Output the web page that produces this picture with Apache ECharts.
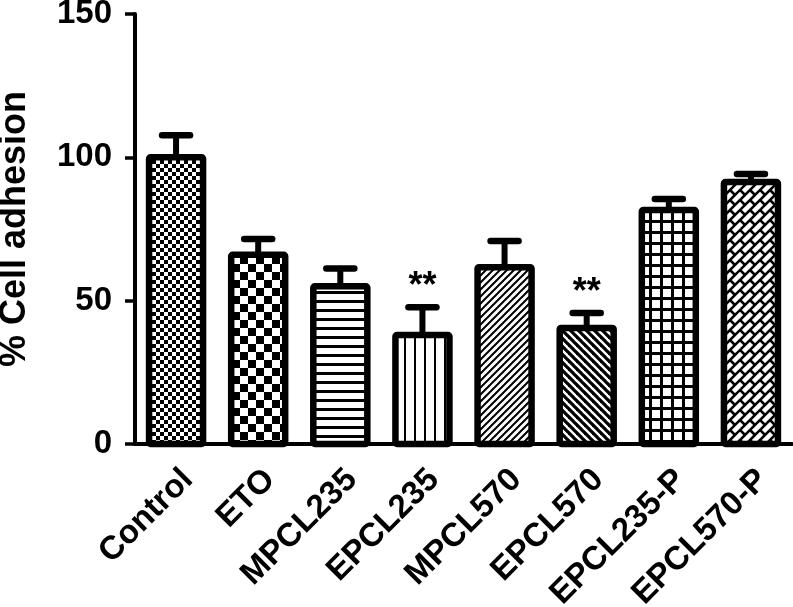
<!DOCTYPE html>
<html>
<head>
<meta charset="utf-8">
<script src="https://cdn.jsdelivr.net/npm/echarts@6/dist/echarts.min.js"></script>
<style>
html,body{margin:0;padding:0;background:#fff;}
#chart{width:793px;height:607px;}
</style>
</head>
<body>
<div id="chart"></div>
<script>
// ---- data ----
const categories = ['Control', 'ETO', 'MPCL235', 'EPCL235', 'MPCL570', 'EPCL570', 'EPCL235-P', 'EPCL570-P'];
const meanValues = [100, 66, 55, 38, 61.7, 40.5, 81.6, 91.4];
const errorValues = [7.7, 5.5, 6.2, 9.7, 9.1, 5.2, 3.9, 2.8];
const significance = ['', '', '', '**', '', '**', '', ''];
const yAxisMin = 0;
const yAxisMax = 150;
const yAxisInterval = 50;
const yAxisTitle = '% Cell adhesion';

// ---- fill patterns (styles) ----
function makeTile(w, h, draw) {
  const c = document.createElement('canvas');
  c.width = w; c.height = h;
  const g = c.getContext('2d');
  g.fillStyle = '#fff'; g.fillRect(0, 0, w, h);
  g.fillStyle = '#000'; g.strokeStyle = '#000';
  draw(g, w, h);
  return c;
}
const patternTiles = [
  makeTile(8, 8, g => { g.fillRect(0, 0, 4, 4); g.fillRect(4, 4, 4, 4); }),
  makeTile(16, 16, g => { g.fillRect(0, 0, 8, 8); g.fillRect(8, 8, 8, 8); }),
  makeTile(9, 9, g => { g.fillRect(0, 3, 9, 3); }),
  makeTile(10, 10, g => { g.fillRect(4, 0, 2, 10); }),
  makeTile(7, 7, (g, p) => {
    g.lineWidth = 2;
    [0, p, 2 * p].forEach(c => { g.beginPath(); g.moveTo(c + p, -p); g.lineTo(-p, c + p); g.stroke(); });
  }),
  makeTile(8, 8, (g, p) => {
    g.lineWidth = 3.3;
    [-p, 0, p].forEach(c => { g.beginPath(); g.moveTo(c - p, -p); g.lineTo(c + 2 * p, 2 * p); g.stroke(); });
  }),
  makeTile(11, 11, g => { g.fillRect(0, 0, 11, 3); g.fillRect(0, 0, 3, 11); }),
  makeTile(20, 20, g => {
    g.lineWidth = 2.6;
    for (let c = -20; c <= 60; c += 10) {
      g.beginPath(); g.moveTo(c + 20, -20); g.lineTo(-20, c + 20); g.stroke();
    }
    for (let k = -4; k <= 6; k++) {
      const c1 = 10 * k, c2 = 10 * k + 10;
      const off = (((k % 2) + 2) % 2) * 10;
      for (let d = -40 + off; d <= 40; d += 20) {
        g.beginPath();
        g.moveTo((c1 + d) / 2, (c1 - d) / 2);
        g.lineTo((c2 + d) / 2, (c2 - d) / 2);
        g.stroke();
      }
    }
  })
];

const FONT = '"Liberation Sans", Arial, Helvetica, sans-serif';
const BAR_HALF = 27;
const chart = echarts.init(document.getElementById('chart'), null, { renderer: 'canvas' });

const option = {
  animation: false,
  backgroundColor: '#fff',
  grid: { left: 135, right: 1, top: 14, bottom: 163, containLabel: false, outerBoundsMode: 'none' },
  xAxis: {
    type: 'category',
    data: categories,
    boundaryGap: true,
    axisLine: { lineStyle: { color: '#000', width: 4 } },
    axisTick: { alignWithLabel: true, length: 12, lineStyle: { color: '#000', width: 3.5 } },
    axisLabel: {
      rotate: 45, margin: 19, verticalAlign: 'top', color: '#000', fontSize: 33, fontWeight: 'bold', fontFamily: FONT,
      interval: 0
    },
    splitLine: { show: false }
  },
  yAxis: {
    type: 'value',
    min: yAxisMin, max: yAxisMax, interval: yAxisInterval,
    name: yAxisTitle,
    nameLocation: 'middle',
    nameRotate: 90,
    nameGap: 102,
    nameTextStyle: { color: '#000', fontSize: 36, fontWeight: 'bold', fontFamily: FONT },
    axisLine: { show: true, lineStyle: { color: '#000', width: 4 } },
    axisTick: { show: true, length: 10, lineStyle: { color: '#000', width: 3.5 } },
    axisLabel: { margin: 23, color: '#000', fontSize: 33, fontWeight: 'bold', fontFamily: FONT },
    splitLine: { show: false }
  },
  series: [
    {
      type: 'custom',
      name: 'bars',
      z: 2,
      data: meanValues.map((v, i) => [i, v]),
      encode: { x: 0, y: 1 },
      renderItem: function (params, api) {
        const i = api.value(0);
        const base = api.coord([i, 0]);
        const top = api.coord([i, api.value(1)]);
        return {
          type: 'rect',
          shape: { x: base[0] - BAR_HALF, y: top[1], width: BAR_HALF * 2, height: base[1] - top[1], r: 1.5 },
          style: {
            fill: { image: patternTiles[params.dataIndex], repeat: 'repeat' },
            stroke: '#000', lineWidth: 6.5, lineJoin: 'round'
          }
        };
      }
    },
    {
      type: 'custom',
      name: 'errors',
      z: 3,
      data: meanValues.map((v, i) => [i, v, v + errorValues[i]]),
      encode: { x: 0, y: [1, 2] },
      renderItem: function (params, api) {
        const i = api.value(0);
        const base = api.coord([i, api.value(1)]);
        const top = api.coord([i, api.value(2)]);
        const x = base[0];
        const children = [
          { type: 'line', shape: { x1: x, y1: base[1], x2: x, y2: top[1] },
            style: { stroke: '#000', lineWidth: 6 } },
          { type: 'line', shape: { x1: x - 14, y1: top[1], x2: x + 14, y2: top[1] },
            style: { stroke: '#000', lineWidth: 6.5, lineCap: 'round' } }
        ];
        const sig = significance[params.dataIndex];
        if (sig) {
          children.push({ type: 'text', style: {
            text: sig, x: x, y: top[1] - 20, align: 'center', verticalAlign: 'middle',
            fontSize: 36, fontWeight: 'bold', fontFamily: FONT, fill: '#000'
          }});
        }
        return { type: 'group', children: children };
      }
    }
  ]
};
chart.setOption(option);
</script>
</body>
</html>
